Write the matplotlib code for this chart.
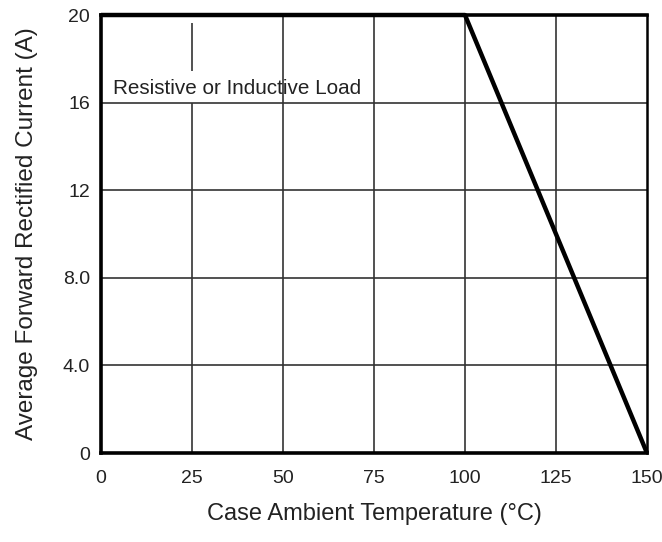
import matplotlib
matplotlib.use("Agg")
import matplotlib.pyplot as plt

plt.rcParams['font.family'] = ['Liberation Sans', 'DejaVu Sans']

# derating curve
temp = [0, 100, 150]
current = [20, 20, 0]

x_ticks = [0, 25, 50, 75, 100, 125, 150]
y_ticks = [0, 4, 8, 12, 16, 20]
y_tick_labels = ['0', '4.0', '8.0', '12', '16', '20']

fig = plt.figure(figsize=(6.62, 5.42), dpi=100)
ax = fig.add_axes([0.1526, 0.1642, 0.8247, 0.8081])

ax.set_xlim(0, 150)
ax.set_ylim(0, 20)

# grid lines drawn by hand so the 25 line can break around the note
grid_kw = dict(color='#333333', lw=1.2, zorder=1)
for xv in x_ticks[1:-1]:
    if xv == 25:
        ax.vlines(xv, 0, 16, **grid_kw)
        ax.vlines(xv, 17.45, 19.62, **grid_kw)
    else:
        ax.vlines(xv, 0, 20, **grid_kw)
for yv in y_ticks[1:-1]:
    ax.hlines(yv, 0, 150, **grid_kw)

ax.plot(temp, current, color='black', lw=3.2, solid_capstyle='butt', zorder=3, clip_on=False)

ax.text(3.3, 16.65, 'Resistive or Inductive Load', fontsize=14.9, color='#222222',
        ha='left', va='center')

ax.set_xticks(x_ticks)
ax.set_xticklabels([str(v) for v in x_ticks])
ax.set_yticks(y_ticks)
ax.set_yticklabels(y_tick_labels)
ax.tick_params(length=0, labelsize=14, labelcolor='#222222')
ax.tick_params(axis='x', pad=12)
ax.tick_params(axis='y', pad=8)

ax.set_xlabel('Case Ambient Temperature (°C)', fontsize=17, color='#222222', labelpad=12)
ax.set_ylabel('Average Forward Rectified Current (A)', fontsize=17.5, color='#222222', labelpad=18)

for side in ['left', 'bottom', 'top']:
    ax.spines[side].set_linewidth(2.6)
ax.spines['right'].set_linewidth(1.8)

fig.savefig('out.png', dpi=100)
